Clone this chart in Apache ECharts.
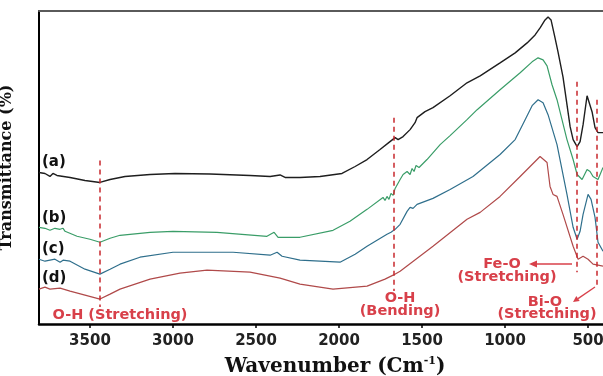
<!DOCTYPE html>
<html>
<head>
<meta charset="utf-8">
<script src="https://cdn.jsdelivr.net/npm/echarts@6/dist/echarts.min.js"></script>
<style>
html,body{margin:0;padding:0;background:#fff;}
#chart{width:603px;height:376px;}
</style>
</head>
<body>
<div id="chart"></div>
<script>
// Wavenumber range and tick values (cm^-1)
const xMin = 410;
const xMax = 3807;
const tickValues = [3500, 3000, 2500, 2000, 1500, 1000, 500];

// Series: [wavenumber, relative transmittance (arb. units)]
const curveA = [[3807,152],[3771,151],[3741,148],[3723,151],[3699,149],[3620,147],[3530,144],[3440,142],[3379,145],[3289,148],[3138,150],[2988,151],[2777,150.5],[2536,149],[2415,148],[2355,149.5],[2325,147],[2235,147],[2114,148],[1982,151],[1903,158],[1831,165],[1753,175],[1693,183],[1662,187],[1644,185],[1614,188],[1572,195],[1542,202],[1530,207],[1482,213],[1434,217],[1331,229],[1229,242],[1150,249],[1030,262],[939,272],[867,282],[819,290],[789,297],[759,305],[741,308],[723,305],[699,287],[681,273],[651,248],[627,220],[608,198],[590,185],[566,178],[548,183],[530,200],[506,229],[494,228],[476,213],[458,197],[440,192],[428,190],[410,192]];
const curveB = [[3807,97],[3771,96],[3741,94],[3711,96],[3699,94],[3680,95],[3662,96],[3650,93],[3578,88],[3500,85],[3440,82],[3379,86],[3319,89],[3138,92],[3000,93],[2735,92],[2434,88],[2391,92],[2367,87],[2235,87],[2036,94],[1934,103],[1831,115],[1735,127],[1723,124],[1711,128],[1699,125],[1687,131],[1674,129],[1662,136],[1650,138],[1632,145],[1614,150],[1590,153],[1572,150],[1560,156],[1548,153],[1536,159],[1518,157],[1494,161],[1470,165],[1391,180],[1331,189],[1229,205],[1168,215],[1030,235],[909,252],[837,263],[801,267],[771,265],[747,259],[717,240],[687,225],[657,205],[627,185],[590,165],[566,150],[536,145],[506,155],[488,153],[470,148],[440,145],[410,157]];
const curveC = [[3807,65],[3771,63],[3711,65],[3680,62],[3662,64],[3620,63],[3530,55],[3440,50],[3379,55],[3319,60],[3199,67],[3000,72],[2638,72],[2415,69],[2373,72],[2343,68],[2235,64],[1994,62],[1903,70],[1831,78],[1711,90],[1687,92],[1662,95],[1650,94],[1632,100],[1590,113],[1572,117],[1554,116],[1530,120],[1434,126],[1331,135],[1193,148],[1030,170],[939,185],[879,205],[837,219],[801,225],[771,222],[741,210],[687,180],[627,130],[590,97],[566,85],[548,93],[530,110],[500,130],[482,125],[458,107],[440,82],[410,73]];
const curveD = [[3807,35],[3771,37],[3741,35],[3680,36],[3620,33],[3530,29],[3440,25],[3379,30],[3319,35],[3138,45],[2958,51],[2795,54],[2536,52],[2355,46],[2235,40],[2036,35],[1831,38],[1723,45],[1674,49],[1632,53],[1434,78],[1229,105],[1150,112],[1030,128],[909,148],[849,158],[789,168],[747,162],[729,138],[711,130],[687,128],[651,110],[590,78],[560,65],[530,68],[500,65],[470,60],[410,58]];

// Marked bands (wavenumber, top value, bottom value)
const bandPos = [3440, 1668, 566, 446];
const bandTop = [164, 207, 243, 225];
const bandBottom = [17, 33, 52, 37];

const seriesNames = ['(a)', '(b)', '(c)', '(d)'];
const seriesColors = ['#1e1e1e', '#3a9d68', '#2f6f8c', '#b04a4a'];

const chart = echarts.init(document.getElementById('chart'));
const red = '#d8404a';
const annFont = 'bold 14.5px "DejaVu Sans"';

const markData = bandPos.map((x, i) => [{coord: [x, bandTop[i]]}, {coord: [x, bandBottom[i]]}]);

function txt(text, x, y, align) {
  return {type: 'text', x: x, y: y, silent: true,
    style: {text: text, fill: red, font: annFont, align: align || 'center', verticalAlign: 'middle'}};
}
function lbl(text, x, y) {
  return {type: 'text', x: x, y: y, silent: true,
    style: {text: text, fill: '#111', font: 'bold 15px "DejaVu Sans"', align: 'left', verticalAlign: 'middle'}};
}

const curves = [curveA, curveB, curveC, curveD];

chart.setOption({
  animation: false,
  grid: {left: 39, right: 0, top: 11, bottom: 52, containLabel: false, outerBoundsMode: 'none'},
  xAxis: [{
    type: 'value', min: xMin, max: xMax, inverse: true, position: 'bottom',
    splitLine: {show: false},
    axisLine: {show: true, onZero: false, lineStyle: {color: '#000', width: 2.5}},
    axisTick: {show: true, length: 4, inside: false, customValues: tickValues, lineStyle: {color: '#000', width: 1.5}},
    axisLabel: {customValues: tickValues, formatter: v => String(v), fontSize: 15, fontWeight: 'bold', fontFamily: 'DejaVu Sans', color: '#222', margin: 10, hideOverlap: false},
    name: 'Wavenumber (Cm{sup|-1})',
    nameLocation: 'middle', nameGap: 32,
    nameTextStyle: {fontFamily: 'DejaVu Serif', fontWeight: 'bold', fontSize: 20, color: '#111', padding: [0, 0, 0, 28],
      rich: {sup: {fontFamily: 'DejaVu Serif', fontWeight: 'bold', fontSize: 11, verticalAlign: 'top', padding: [0,0,10,0], color: '#111'}}}
  }, {
    type: 'value', min: xMin, max: xMax, inverse: true, position: 'top',
    splitLine: {show: false},
    axisLine: {show: true, onZero: false, lineStyle: {color: '#5a5a5a', width: 2}},
    axisTick: {show: false}, axisLabel: {show: false}
  }],
  yAxis: {
    type: 'value', min: 0, max: 314,
    splitLine: {show: false},
    axisLine: {show: true, onZero: false, lineStyle: {color: '#000', width: 2}},
    axisTick: {show: false}, axisLabel: {show: false},
    name: 'Transmittance (%)', nameLocation: 'middle', nameGap: 24, nameRotate: 90,
    nameTextStyle: {fontFamily: 'DejaVu Serif', fontWeight: 'bold', fontSize: 16, color: '#111'}
  },
  series: curves.map((c, i) => ({
    type: 'line', name: seriesNames[i], data: c, showSymbol: false, symbol: 'none',
    lineStyle: {color: seriesColors[i], width: i === 0 ? 1.4 : 1.2},
    itemStyle: {color: seriesColors[i]},
    silent: true,
    markLine: i === 0 ? {
      silent: true, symbol: 'none', label: {show: false},
      lineStyle: {color: '#c8282e', type: [5, 4], width: 1.5},
      data: markData
    } : undefined
  })),
  graphic: [
    lbl('(a)', 42, 162), lbl('(b)', 42, 218), lbl('(c)', 42, 249), lbl('(d)', 42, 278),
    txt('O-H (Stretching)', 120, 315),
    txt('O-H', 400, 298), txt('(Bending)', 400, 311),
    txt('Fe-O', 502, 264), txt('(Stretching)', 507, 277),
    txt('Bi-O', 545, 302), txt('(Stretching)', 547, 314),
    {type: 'line', silent: true, shape: {x1: 572, y1: 264, x2: 535, y2: 264}, style: {stroke: red, lineWidth: 1.5}},
    {type: 'polygon', silent: true, shape: {points: [[529, 264], [537, 260.5], [537, 267.5]]}, style: {fill: red}},
    {type: 'line', silent: true, shape: {x1: 595, y1: 287, x2: 578, y2: 298.6}, style: {stroke: red, lineWidth: 1.3}},
    {type: 'polygon', silent: true, shape: {points: [[573, 302], [579.7, 301.1], [576.3, 296.1]]}, style: {fill: red}}
  ]
});
</script>
</body>
</html>
